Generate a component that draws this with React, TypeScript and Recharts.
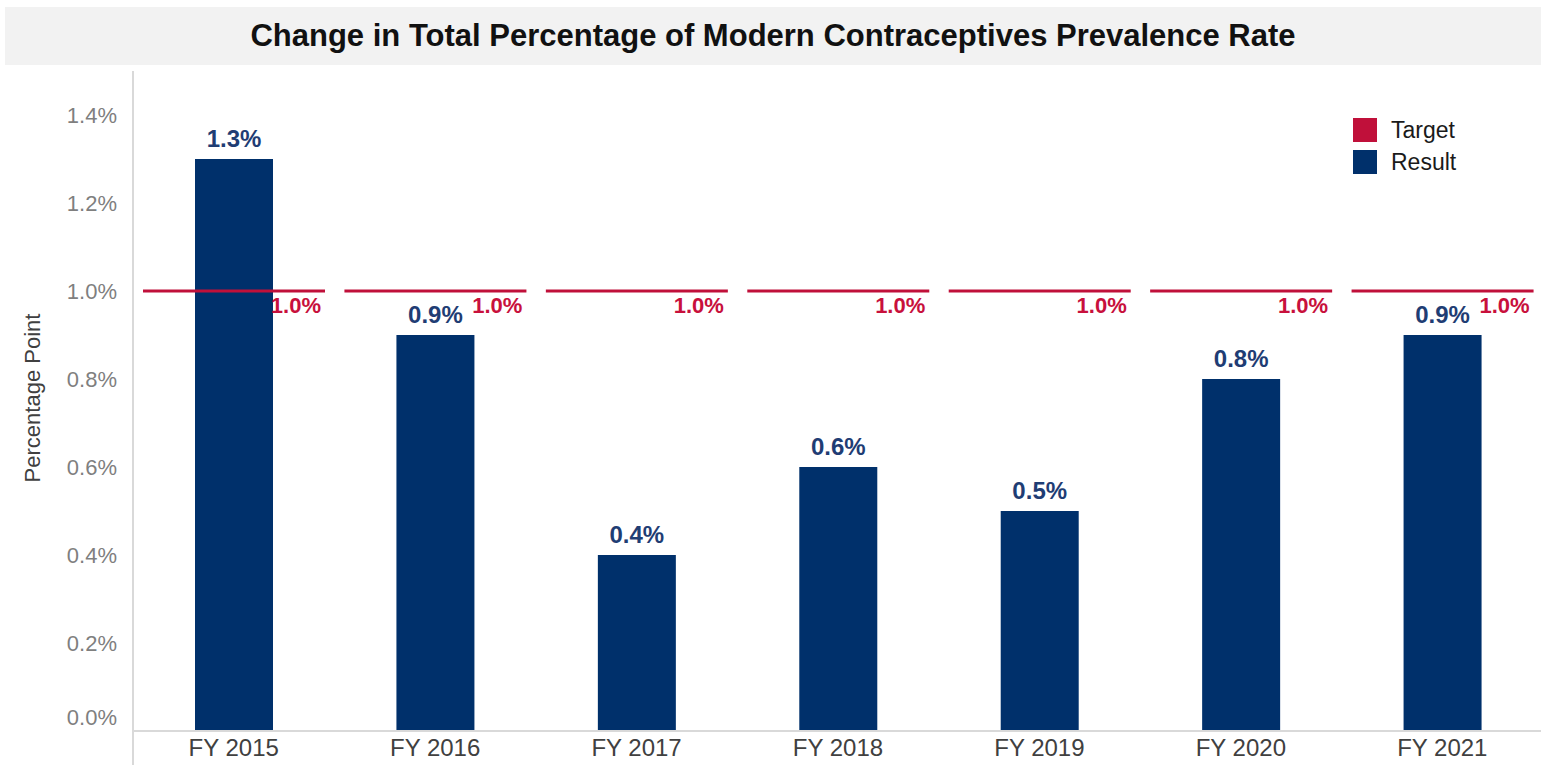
import React from 'react';
import { BarChart, Bar, XAxis, YAxis, LabelList } from 'recharts';

const years = ['FY 2015', 'FY 2016', 'FY 2017', 'FY 2018', 'FY 2019', 'FY 2020', 'FY 2021'];
const resultValues = [1.3, 0.9, 0.4, 0.6, 0.5, 0.8, 0.9];
const targetValues = [1.0, 1.0, 1.0, 1.0, 1.0, 1.0, 1.0];
const yTicks = [0, 0.2, 0.4, 0.6, 0.8, 1.0, 1.2, 1.4];
const title = 'Change in Total Percentage of Modern Contraceptives Prevalence Rate';
const yLabel = 'Percentage Point';
const legendItems = [
  { name: 'Target', color: '#C0103A' },
  { name: 'Result', color: '#00306B' },
];

const data = years.map((year, i) => ({ year, result: resultValues[i], target: targetValues[i] }));

const FONT = "'Liberation Sans', Arial, sans-serif";
const fmt = (v: number) => `${Number(v).toFixed(1)}%`;

const YTick = (props: any) => {
  const { x, y, payload } = props;
  const yy = payload.value === 0 ? y - 14 : y;
  return (
    <text x={x} y={yy} dy="0.35em" textAnchor="end" fill="#7f7f7f" fontSize={22} fontFamily={FONT}>
      {fmt(payload.value)}
    </text>
  );
};

const TargetShape = (props: any) => {
  const { x, y, width, payload } = props;
  return (
    <g>
      <line x1={x} x2={x + width} y1={y} y2={y} stroke="#C0103A" strokeWidth={3} />
      <text x={x + width - 4} y={y + 22} textAnchor="end" fill="#C8103C" fontSize={22} fontWeight="bold" fontFamily={FONT}>
        {fmt(payload.target)}
      </text>
    </g>
  );
};

const renderYLabel = () => (
  <text
    x={32}
    y={398}
    transform="rotate(-90 32 398)"
    textAnchor="middle"
    dominantBaseline="central"
    fill="#404040"
    fontSize={22}
    fontFamily={FONT}
  >
    {yLabel}
  </text>
);

export default function App() {
  return (
    <div
      style={{
        position: 'absolute',
        left: 0,
        top: 0,
        width: 1541,
        height: 765,
        overflow: 'hidden',
        background: '#fff',
        fontFamily: FONT,
      }}
    >
      <div
        style={{
          position: 'absolute',
          left: 5,
          top: 7,
          width: 1536,
          height: 58,
          background: '#f2f2f2',
          textAlign: 'center',
          lineHeight: '58px',
          fontSize: 31,
          fontWeight: 'bold',
          color: '#111',
        }}
      >
        {title}
      </div>
      <div style={{ position: 'absolute', left: 132, top: 731, width: 2, height: 34, background: '#d9d9d9' }} />
      <div style={{ position: 'absolute', left: 0, top: 0 }}>
        <BarChart width={1545} height={765} data={data} margin={{ top: 71, right: 2, bottom: 0, left: 0 }}>
          <XAxis
            xAxisId="r"
            dataKey="year"
            height={34}
            tickLine={false}
            tickSize={0}
            tickMargin={8}
            axisLine={{ stroke: '#d9d9d9', strokeWidth: 2 }}
            tick={{ fill: '#404040', fontSize: 24, fontFamily: FONT }}
            interval={0}
          />
          <XAxis xAxisId="t" dataKey="year" hide />
          <YAxis
            width={133}
            domain={[0, 1.5]}
            ticks={yTicks}
            allowDataOverflow
            tickLine={false}
            tickSize={0}
            tickMargin={16}
            axisLine={{ stroke: '#d9d9d9', strokeWidth: 2 }}
            tick={<YTick />}
            interval={0}
            label={renderYLabel}
          />
          <Bar xAxisId="r" dataKey="result" barSize={78} fill="#00306B" isAnimationActive={false}>
            <LabelList
              dataKey="result"
              position="top"
              offset={12}
              formatter={(v: any) => fmt(v)}
              fill="#1F3D74"
              fontSize={24}
              fontWeight="bold"
              fontFamily={FONT}
            />
          </Bar>
          <Bar xAxisId="t" dataKey="target" barSize={182} shape={<TargetShape />} isAnimationActive={false} />
        </BarChart>
      </div>
      <div style={{ position: 'absolute', left: 1353, top: 114 }}>
        {legendItems.map((it) => (
          <div key={it.name} style={{ display: 'flex', alignItems: 'center', height: 32 }}>
            <div style={{ width: 24, height: 24, background: it.color, marginRight: 14 }} />
            <span style={{ fontSize: 23, color: '#1a1a1a' }}>{it.name}</span>
          </div>
        ))}
      </div>
    </div>
  );
}
